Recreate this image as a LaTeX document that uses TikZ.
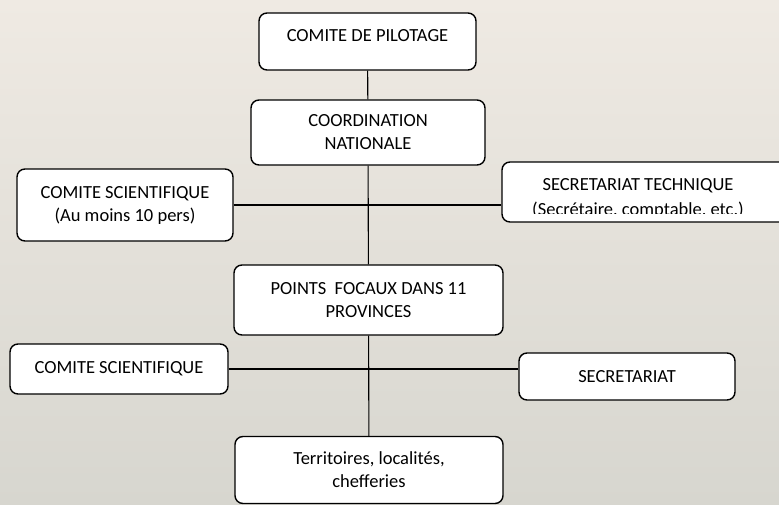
\documentclass[tikz,border=0pt]{standalone}
\usepackage{fontspec}
\setmainfont{Carlito}
\definecolor{bgtop}{RGB}{239,234,227}
\definecolor{bgbottom}{RGB}{215,214,207}
\tikzset{orgbox/.style={draw, fill=white, rounded corners=8pt, line width=1.4pt, align=center, font=\fontsize{18.5}{23}\selectfont}}
\tikzset{orgline/.style={line width=1.1pt}}
\usetikzlibrary{positioning}

\begin{document}
\begin{tikzpicture}[x=1pt, y=-1pt]
  \useasboundingbox (0,0) rectangle (779,504);
  \shade [top color=bgtop, bottom color=bgbottom] (0,0) rectangle (779,504);

  % spine
  \node [orgbox, minimum width=217pt, minimum height=57pt, text depth=12pt] (pilot) at (367.5,41.5) {COMITE DE PILOTAGE};
  \node [orgbox, minimum width=234pt, minimum height=65pt] (coord) at (368,132.5) {COORDINATION\\NATIONALE};
  \node [orgbox, minimum width=269pt, minimum height=70pt] (points) at (368.5,300) {POINTS\ \ FOCAUX DANS 11\\PROVINCES};
  \node [orgbox, minimum width=268pt, minimum height=67pt] (terr) at (369,470) {Territoires, localités,\\chefferies};

  % side boxes
  \node [orgbox, minimum width=216pt, minimum height=72pt] (scione) at (125,205) {COMITE SCIENTIFIQUE\\(Au moins 10 pers)};
  \node [orgbox, minimum width=290pt, minimum height=60pt] (sectech) at (647,192) {};
  \begin{scope}
    \clip (502,160) rectangle (779,213);
    \node [align=center, font=\fontsize{18.5}{25}\selectfont] (sectechtxt) at (638,198) {SECRETARIAT TECHNIQUE\\(Secrétaire, comptable, etc.)};
  \end{scope}
  \node [orgbox, minimum width=218pt, minimum height=50pt] (scitwo) at (119,369) {COMITE SCIENTIFIQUE};
  \node [orgbox, minimum width=216pt, minimum height=47pt] (secr) at (627,376.5) {SECRETARIAT};

  \draw [orgline] (pilot) -- (coord);
  \draw [orgline] (coord) -- (points);
  \draw [orgline] (points) -- (terr);
  \draw [orgline] (scione.east) -- (scione.east -| sectech.west);
  \draw [orgline] (scitwo.east) -- (scitwo.east -| secr.west);
\end{tikzpicture}
\end{document}
